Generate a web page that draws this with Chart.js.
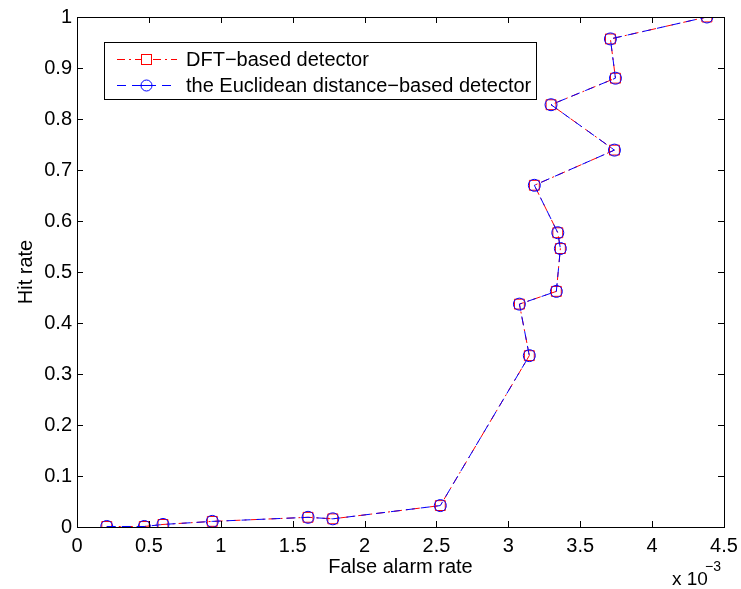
<!DOCTYPE html>
<html>
<head>
<meta charset="utf-8">
<script src="https://cdn.jsdelivr.net/npm/chart.js@4"></script>
<style>
  html, body { margin: 0; padding: 0; background: #fff; }
</style>
</head>
<body>
<canvas id="myChart" width="741" height="589"></canvas>
<script>
// false alarm rate, in units of 1e-3 (axis shows "x 10^-3")
const falseAlarm = [0.207, 0.468, 0.598, 0.941, 1.607, 1.779, 2.527, 3.146, 3.077, 3.334, 3.362, 3.344, 3.181, 3.738, 3.297, 3.745, 3.710, 4.381];
const hitDft     = [0.001, 0.001, 0.005, 0.011, 0.019, 0.016, 0.042, 0.336, 0.437, 0.462, 0.546, 0.577, 0.670, 0.739, 0.828, 0.880, 0.957, 1.000];
const hitEuclid  = [0.001, 0.001, 0.005, 0.011, 0.019, 0.016, 0.042, 0.336, 0.437, 0.462, 0.546, 0.577, 0.670, 0.739, 0.828, 0.880, 0.957, 1.000];
const xTicks = [0, 0.5, 1, 1.5, 2, 2.5, 3, 3.5, 4, 4.5];
const yTicks = [0, 0.1, 0.2, 0.3, 0.4, 0.5, 0.6, 0.7, 0.8, 0.9, 1];
const seriesNames = ['DFT\u2212based detector', 'the Euclidean distance\u2212based detector'];

const FONT = "'Liberation Sans', Arial, sans-serif";
const RED_DASH = [8, 4, 2, 4];
const BLUE_DASH = [9, 6];

function drawText(ctx, txt, x, y, size, align, rotate) {
  ctx.save();
  ctx.translate(x, y);
  if (rotate) {
    ctx.rotate(rotate);
  }
  ctx.font = size + 'px ' + FONT;
  ctx.fillStyle = '#000';
  ctx.textAlign = align || 'left';
  ctx.textBaseline = 'middle';
  ctx.fillText(txt, 0, 0);
  ctx.restore();
}

const matlabFrame = {
  id: 'matlabFrame',
  afterDatasetsDraw(chart) {
    const ctx = chart.ctx;
    const a = chart.chartArea;
    const xs = chart.scales.x;
    const ys = chart.scales.y;
    const tl = 6;
    ctx.save();
    ctx.strokeStyle = '#000';
    ctx.lineWidth = 1;
    ctx.beginPath();
    xTicks.forEach(v => {
      const px = Math.round(xs.getPixelForValue(v)) + 0.5;
      ctx.moveTo(px, a.bottom); ctx.lineTo(px, a.bottom - tl);
      ctx.moveTo(px, a.top); ctx.lineTo(px, a.top + tl);
    });
    yTicks.forEach(v => {
      const py = Math.round(ys.getPixelForValue(v)) + 0.5;
      ctx.moveTo(a.left, py); ctx.lineTo(a.left + tl, py);
      ctx.moveTo(a.right, py); ctx.lineTo(a.right - tl, py);
    });
    ctx.stroke();
    ctx.strokeRect(Math.round(a.left) + 0.5, Math.round(a.top) + 0.5,
      Math.round(a.right - a.left), Math.round(a.bottom - a.top));

    // axis titles
    drawText(ctx, 'False alarm rate', (a.left + a.right) / 2, 567, 20, 'center');
    drawText(ctx, 'Hit rate', 26, (a.top + a.bottom) / 2, 20, 'center', -Math.PI / 2);
    drawText(ctx, 'x 10', 672, 580, 19, 'left');
    drawText(ctx, '\u22123', 705, 567, 14, 'left');

    // legend
    const bx = 104, by = 42, bw = 432, bh = 57;
    ctx.fillStyle = '#fff';
    ctx.fillRect(bx, by, bw, bh);
    ctx.strokeStyle = '#000';
    ctx.strokeRect(bx + 0.5, by + 0.5, bw, bh);
    const rows = [
      { y: 59, color: '#ff0000', dash: RED_DASH, marker: 'rect' },
      { y: 85, color: '#0000ff', dash: BLUE_DASH, marker: 'circle' }
    ];
    rows.forEach((r, i) => {
      ctx.save();
      ctx.strokeStyle = r.color;
      ctx.lineWidth = 1;
      ctx.setLineDash(r.dash);
      ctx.beginPath();
      ctx.moveTo(117, r.y + 0.5); ctx.lineTo(177, r.y + 0.5);
      ctx.stroke();
      ctx.setLineDash([]);
      ctx.fillStyle = '#fff';
      if (r.marker === 'rect') {
        ctx.fillRect(141, r.y - 5, 10, 10);
        ctx.strokeRect(141.5, r.y - 4.5, 10, 10);
      } else {
        ctx.beginPath();
        ctx.arc(146.5, r.y + 0.5, 5.5, 0, Math.PI * 2);
        ctx.fill();
        ctx.stroke();
        ctx.beginPath();
        ctx.moveTo(141, r.y + 0.5); ctx.lineTo(152, r.y + 0.5);
        ctx.stroke();
      }
      ctx.restore();
      drawText(ctx, seriesNames[i], 186, r.y + 1, 20, 'left');
    });
    ctx.restore();
  }
};

const ctx = document.getElementById('myChart');

const myChart = new Chart(ctx, {
  type: 'line',
  data: {
    datasets: [{
      label: seriesNames[0],
      data: falseAlarm.map((x, i) => ({ x: x, y: hitDft[i] })),
      borderColor: '#ff0000',
      borderWidth: 1,
      borderDash: RED_DASH,
      pointStyle: 'rect',
      pointRadius: 7,
      pointBorderWidth: 1,
      pointBorderColor: '#ff0000',
      pointBackgroundColor: 'rgba(0,0,0,0)',
      fill: false,
      tension: 0,
      order: 1
    }, {
      label: seriesNames[1],
      data: falseAlarm.map((x, i) => ({ x: x, y: hitEuclid[i] })),
      borderColor: '#0000ff',
      borderWidth: 1,
      borderDash: BLUE_DASH,
      pointStyle: 'circle',
      pointRadius: 6,
      pointBorderWidth: 1,
      pointBorderColor: '#0000ff',
      pointBackgroundColor: 'rgba(0,0,0,0)',
      fill: false,
      tension: 0,
      order: 0
    }]
  },
  options: {
    responsive: false,
    animation: false,
    layout: { padding: { left: 0, right: 17, top: 17, bottom: 0 } },
    plugins: {
      legend: { display: false },
      tooltip: { enabled: false }
    },
    scales: {
      x: {
        type: 'linear',
        min: 0,
        max: 4.5,
        afterBuildTicks: s => { s.ticks = xTicks.map(v => ({ value: v })); },
        afterFit: s => { s.height = 62; s.paddingLeft = 0; s.paddingRight = 0; },
        grid: { display: false, drawTicks: false },
        border: { display: false },
        ticks: {
          color: '#000',
          padding: 7,
          maxRotation: 0,
          font: { family: FONT, size: 20 },
          callback: v => String(v)
        }
      },
      y: {
        type: 'linear',
        min: 0,
        max: 1,
        afterBuildTicks: s => { s.ticks = yTicks.map(v => ({ value: v })); },
        afterFit: s => { s.width = 77; s.paddingTop = 0; s.paddingBottom = 0; },
        grid: { display: false, drawTicks: false },
        border: { display: false },
        ticks: {
          color: '#000',
          padding: 5,
          font: { family: FONT, size: 20 },
          callback: v => String(v)
        }
      }
    }
  },
  plugins: [matlabFrame]
});
</script>
</body>
</html>
